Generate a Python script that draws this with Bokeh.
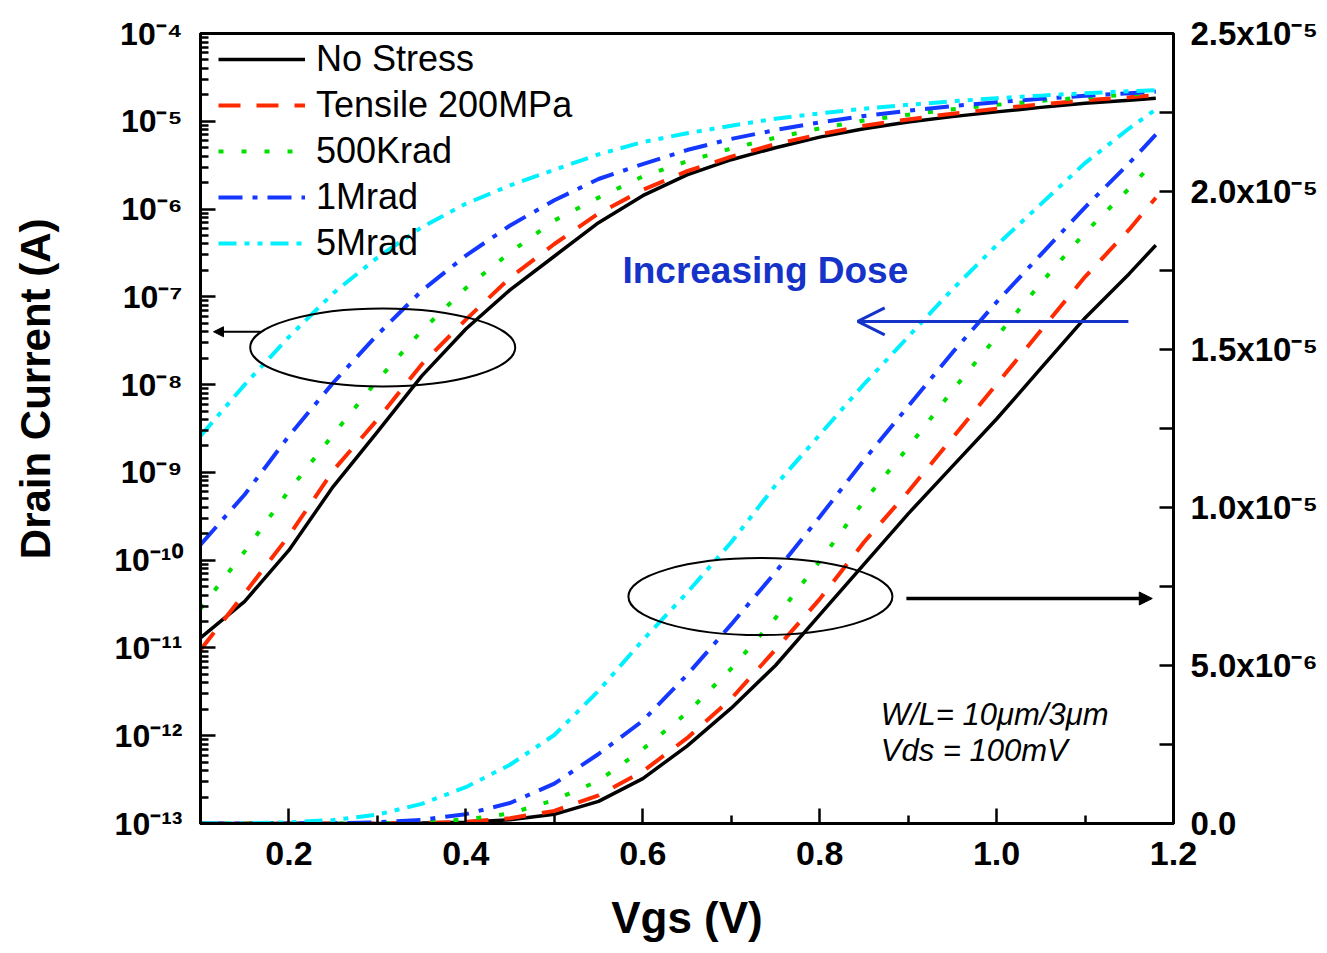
import math
from bokeh.plotting import figure
from bokeh.models import (Range1d, LinearAxis, LinearScale, FixedTicker, CustomJSTickFormatter,
                          PrintfTickFormatter, Label, Arrow, NormalHead, OpenHead, Title)
from bokeh.embed import file_html
from bokeh.resources import INLINE

# ---------------- data ----------------
vgs = [0.10, 0.15, 0.20, 0.25, 0.30, 0.35, 0.40, 0.45, 0.50, 0.55, 0.60, 0.65,
       0.70, 0.75, 0.80, 0.85, 0.90, 0.95, 1.00, 1.05, 1.10, 1.15, 1.18]

no_stress = [1.3e-11, 3.4e-11, 1.3e-10, 6.9e-10, 2.9e-9, 1.25e-8, 4.3e-8, 1.2e-7,
             2.9e-7, 7.0e-7, 1.42e-6, 2.45e-6, 3.65e-6, 5.0e-6, 6.6e-6, 8.2e-6,
             9.8e-6, 1.13e-5, 1.28e-5, 1.44e-5, 1.60e-5, 1.74e-5, 1.83e-5]
tensile_200mpa = [9.5e-12, 4.2e-11, 1.9e-10, 1.05e-9, 4.0e-9, 1.7e-8, 5.5e-8, 1.65e-7,
                  4.0e-7, 8.9e-7, 1.65e-6, 2.7e-6, 3.95e-6, 5.5e-6, 7.1e-6, 8.9e-6,
                  1.05e-5, 1.22e-5, 1.39e-5, 1.56e-5, 1.73e-5, 1.88e-5, 1.98e-5]
krad_500 = [2.8e-11, 1.26e-10, 6.2e-10, 2.7e-9, 1.12e-8, 4.1e-8, 1.26e-7, 3.2e-7,
            7.4e-7, 1.35e-6, 2.35e-6, 3.5e-6, 4.9e-6, 6.5e-6, 8.3e-6, 1.02e-5,
            1.19e-5, 1.37e-5, 1.54e-5, 1.71e-5, 1.87e-5, 2.01e-5, 2.10e-5]
mrad_1 = [1.5e-10, 5.6e-10, 2.6e-9, 1.05e-8, 3.7e-8, 1.17e-7, 2.95e-7, 6.5e-7,
          1.26e-6, 2.2e-6, 3.25e-6, 4.7e-6, 6.3e-6, 7.95e-6, 9.7e-6, 1.15e-5,
          1.32e-5, 1.49e-5, 1.65e-5, 1.80e-5, 1.95e-5, 2.09e-5, 2.18e-5]
mrad_5 = [2.6e-9, 1.0e-8, 3.5e-8, 1.1e-7, 2.8e-7, 6.2e-7, 1.15e-6, 1.86e-6,
          2.8e-6, 4.2e-6, 5.8e-6, 7.3e-6, 8.9e-6, 1.07e-5, 1.23e-5, 1.39e-5,
          1.54e-5, 1.69e-5, 1.83e-5, 1.96e-5, 2.09e-5, 2.20e-5, 2.26e-5]

series_names = ["No Stress", "Tensile 200MPa", "500Krad", "1Mrad", "5Mrad"]
series_values = [no_stress, tensile_200mpa, krad_500, mrad_1, mrad_5]

x_ticks = [0.2, 0.4, 0.6, 0.8, 1.0, 1.2]
x_minor_ticks = [0.1, 0.3, 0.5, 0.7, 0.9, 1.1]
log_exponents = [-4, -5, -6, -7, -8, -9, -10, -11, -12, -13]
lin_ticks = [0.0, 2.5e-6, 5.0e-6, 7.5e-6, 1.0e-5, 1.25e-5, 1.5e-5, 1.75e-5, 2.0e-5, 2.25e-5, 2.5e-5]
lin_label_values = [2.5e-5, 2.0e-5, 1.5e-5, 1.0e-5, 5.0e-6, 0.0]
lin_label_texts = ["2.5x10⁻⁵", "2.0x10⁻⁵", "1.5x10⁻⁵", "1.0x10⁻⁵", "5.0x10⁻⁶", "0.0"]

SUP = {"-": "⁻", "0": "⁰", "1": "¹", "2": "²", "3": "³", "4": "⁴",
       "5": "⁵", "6": "⁶", "7": "⁷", "8": "⁸", "9": "⁹"}
log_tick_values = [10.0 ** e for e in log_exponents]
log_tick_texts = ["10" + "".join(SUP[c] for c in str(e)) for e in log_exponents]

# ---------------- styles ----------------
FONT = "Liberation Sans"
INK = "black"
BLUE_NOTE = "#1533c8"
styles = [("#000000", "solid", 3.5),
          ("#ff2a00", "22 16", 4.0),
          ("#00e000", "5 18", 4.0),
          ("#1438ff", "24 10 5 10", 4.0),
          ("#00f0ff", "18 8 5 8 5 8", 4.0)]

p = figure(width=1327, height=953, x_range=Range1d(0.1, 1.2), y_range=Range1d(1e-13, 1e-4),
           y_axis_type="log", output_backend="svg", toolbar_location=None,
           min_border_left=200, min_border_right=154, min_border_top=33, min_border_bottom=130)
p.extra_y_ranges = {"lin": Range1d(0.0, 2.5e-5)}
p.extra_y_scales = {"lin": LinearScale()}
p.grid.visible = False
p.outline_line_color = "black"
p.outline_line_width = 3
p.background_fill_color = "white"
p.border_fill_color = "white"

# bottom axis
xa = p.xaxis[0]
xa.ticker = FixedTicker(ticks=x_ticks, minor_ticks=x_minor_ticks)
xa.formatter = PrintfTickFormatter(format="%.1f")
xa.major_label_text_font_size = "34px"
xa.major_label_standoff = 18
xa.axis_label = "Vgs (V)"
xa.axis_label_text_font = FONT
xa.axis_label_text_font_size = "44px"
xa.axis_label_text_font_style = "bold"
xa.axis_label_text_color = INK
xa.axis_label_standoff = 25

# left log axis
ya = p.yaxis[0]
ya.ticker = FixedTicker(ticks=log_tick_values,
                        minor_ticks=[k * 10.0 ** e for e in range(-13, -4) for k in range(2, 10)])
ya.formatter = CustomJSTickFormatter(args=dict(vals=log_tick_values, labs=log_tick_texts), code="""
for (let i = 0; i < vals.length; i++) {
  if (Math.abs(Math.log10(tick) - Math.log10(vals[i])) < 1e-6) return labs[i];
}
return "";
""")
ya.major_label_text_font_size = "32px"
ya.major_label_standoff = 18

# right linear axis
ra = LinearAxis(y_range_name="lin", ticker=FixedTicker(ticks=lin_ticks, minor_ticks=[]))
ra.formatter = CustomJSTickFormatter(args=dict(vals=lin_label_values, labs=lin_label_texts), code="""
for (let i = 0; i < vals.length; i++) {
  if (Math.abs(tick - vals[i]) < 1e-9) return labs[i];
}
return "";
""")
ra.major_label_text_font_size = "33px"
ra.major_label_standoff = 17
p.add_layout(ra, "right")

for ax in [xa, ya, ra]:
    ax.major_label_text_font = FONT
    ax.major_label_text_font_style = "bold"
    ax.major_label_text_color = INK
    ax.axis_line_color = INK
    ax.major_tick_line_color = INK
    ax.minor_tick_line_color = INK
    ax.axis_line_width = 3
    ax.major_tick_line_width = 2.5
    ax.minor_tick_line_width = 2.5
    ax.major_tick_in = 15
    ax.major_tick_out = 0
    ax.minor_tick_in = 8
    ax.minor_tick_out = 0
ra.major_tick_in = 14

# left axis title (second, empty line only widens the title box so that the text sits at the far left)
p.add_layout(Title(text="Drain Current (A)\n", align="right", offset=185, vertical_align="top",
                   standoff=8, text_font=FONT, text_font_size="42px", text_font_style="bold",
                   text_color=INK),
             "left")

# curves: log (left axis) and linear (right axis)
for name, data, (c, d, w) in zip(series_names, series_values, styles):
    p.line(vgs, data, line_color=c, line_dash=d, line_width=w, legend_label=name)
    p.line(vgs, data, line_color=c, line_dash=d, line_width=w, y_range_name="lin")

lg = p.legend[0]
lg.location = (18, 557)
lg.padding = 0
lg.margin = 0
lg.spacing = 0
lg.glyph_width = 87
lg.glyph_height = 46
lg.label_height = 46
lg.label_standoff = 11
lg.label_text_font = FONT
lg.label_text_font_size = "36px"
lg.label_text_color = INK
lg.background_fill_alpha = 0
lg.border_line_alpha = 0

# annotations
p.ellipse(x=[0.306], y=[2.65e-8], width=265, height=78, width_units="screen", height_units="screen",
          fill_color=None, line_color="black", line_width=2)
p.ellipse(x=[0.733], y=[7.18e-6], width=264, height=77, width_units="screen", height_units="screen",
          fill_color=None, line_color="black", line_width=2, y_range_name="lin")

p.add_layout(Arrow(end=NormalHead(size=10, fill_color="black", line_color="black", line_width=1),
                   x_start=0.168, y_start=4.0e-8, x_end=0.1147, y_end=4.0e-8,
                   line_color="black", line_width=2))
p.add_layout(Arrow(end=NormalHead(size=13, fill_color="black", line_color="black", line_width=1),
                   x_start=0.898, y_start=7.12e-6, x_end=1.176, y_end=7.12e-6, y_range_name="lin",
                   line_color="black", line_width=3.5))
p.add_layout(Arrow(end=OpenHead(size=27, line_color=BLUE_NOTE, line_width=3),
                   x_start=1.149, y_start=1.589e-5, x_end=0.843, y_end=1.589e-5, y_range_name="lin",
                   line_color=BLUE_NOTE, line_width=3))

p.add_layout(Label(x=0.577, y=1.75e-5, y_range_name="lin", text="Increasing Dose",
                   text_align="left", text_baseline="middle", text_font=FONT,
                   text_font_size="37px", text_font_style="bold", text_color=BLUE_NOTE))
p.add_layout(Label(x=0.869, y=3.45e-6, y_range_name="lin", text="W/L= 10μm/3μm",
                   text_align="left", text_baseline="middle", text_font=FONT,
                   text_font_size="31px", text_font_style="italic", text_color=INK))
p.add_layout(Label(x=0.869, y=2.31e-6, y_range_name="lin", text="Vds = 100mV",
                   text_align="left", text_baseline="middle", text_font=FONT,
                   text_font_size="31px", text_font_style="italic", text_color=INK))

open("out.html", "w").write(file_html(p, INLINE, "Drain current"))
